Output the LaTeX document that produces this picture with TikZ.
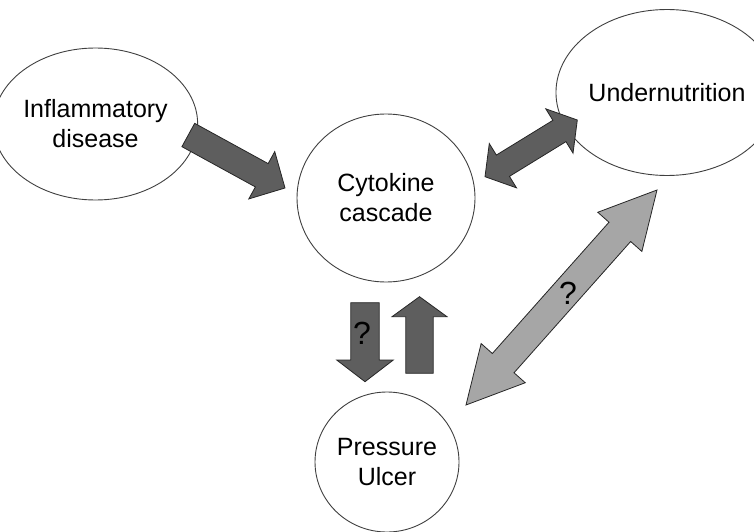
\documentclass[tikz,border=0pt]{standalone}
\usepackage{fontspec}
\setmainfont{Liberation Sans}
\usepackage{tikz}
\usetikzlibrary{calc, shapes.geometric}
\tikzset{
topic/.style = { ellipse, draw = black!75, fill = white, line width = 0.9pt, inner sep = 0pt, align = center, font = \fontsize{25}{30}\selectfont },
dark arrow/.style = { draw = black!85, fill = black!63, line width = 0.8pt },
light arrow/.style = { draw = black!85, fill = black!35, line width = 0.8pt },
query/.style = { font = \fontsize{32}{36}\selectfont, inner sep = 0pt },
}
% block arrow: from, to, half shaft, half head, head length, style
\newcommand{\onewayarrow}[6]{
    \coordinate (hb) at ($(#2)!#5!(#1)$);
    \path[#6] ($(#1)!#3!90:(#2)$) -- ($(hb)!#3!90:(#2)$) -- ($(hb)!#4!90:(#2)$) -- (#2)
        -- ($(hb)!#4!-90:(#2)$) -- ($(hb)!#3!-90:(#2)$) -- ($(#1)!#3!-90:(#2)$) -- cycle;
}
\newcommand{\twowayarrow}[6]{
    \coordinate (ha) at ($(#1)!#5!(#2)$);
    \coordinate (hb) at ($(#2)!#5!(#1)$);
    \path[#6] (#1) -- ($(ha)!#4!90:(#2)$) -- ($(ha)!#3!90:(#2)$) -- ($(hb)!#3!90:(#2)$) -- ($(hb)!#4!90:(#2)$) -- (#2)
        -- ($(hb)!#4!-90:(#2)$) -- ($(hb)!#3!-90:(#2)$) -- ($(ha)!#3!-90:(#2)$) -- ($(ha)!#4!-90:(#2)$) -- cycle;
}

\begin{document}
\begin{tikzpicture}[x = 1pt, y = -1pt]
    \useasboundingbox (0, 0) rectangle (754, 532);
    \node[topic, minimum width = 175pt, minimum height = 152pt] (infl) at (95.5, 124) {Inflammatory\\disease};
    \node[topic, minimum width = 178pt, minimum height = 168pt] (cyto) at (386, 198) {Cytokine\\cascade};
    \node[topic, minimum width = 178pt, minimum height = 166pt] (under) at (667, 92.5) {Undernutrition};
    \node[topic, minimum width = 144pt, minimum height = 140pt] (ulcer) at (387, 462) {Pressure\\Ulcer};
    % arrow ends
    \coordinate (a1s) at (188.3, 135);
    \coordinate (a1t) at (285, 188);
    \coordinate (a2s) at (485, 176.7);
    \coordinate (a2t) at (577.3, 120);
    \coordinate (a3s) at (365, 302.7);
    \coordinate (a3t) at (365, 381.7);
    \coordinate (a4s) at (419.5, 373.3);
    \coordinate (a4t) at (419.5, 296.7);
    \coordinate (a5s) at (466, 405);
    \coordinate (a5t) at (657, 190);
    \onewayarrow{a1s}{a1t}{13.3pt}{27pt}{26.5pt}{dark arrow}
    \twowayarrow{a2s}{a2t}{12.5pt}{26pt}{21pt}{dark arrow}
    \onewayarrow{a3s}{a3t}{14.2pt}{28.3pt}{21.7pt}{dark arrow}
    \onewayarrow{a4s}{a4t}{13.7pt}{27.5pt}{20pt}{dark arrow}
    \twowayarrow{a5s}{a5t}{14.5pt}{29.5pt}{56pt}{light arrow}
    \node[query] (q1) at (362, 333) {?};
    \node[query] (q2) at (568, 293) {?};
\end{tikzpicture}
\end{document}
